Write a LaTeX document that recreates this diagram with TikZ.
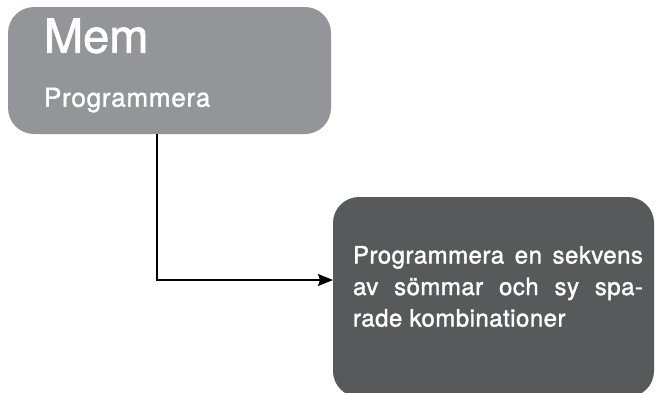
\documentclass[tikz,border=0pt]{standalone}
\usepackage{fontspec}
\setmainfont{TeX Gyre Heros}
\newfontfamily\panelfont{TeX Gyre Heros}[RawFeature={embolden=1.5}]
\usetikzlibrary{arrows.meta,positioning}
\definecolor{memgray}{HTML}{939598}
\definecolor{seqgray}{HTML}{58595B}
\tikzset{
  panel/.style={draw=none, rounded corners=26pt, inner sep=0pt, outer sep=0pt},
  paneltext/.style={text=white, inner sep=0pt, outer sep=0pt},
  link/.style={line width=1.3pt, -{Stealth[length=15pt,width=12pt,inset=2pt]}}
}
\begin{document}
\begin{tikzpicture}[x=1pt,y=-1pt]
    \useasboundingbox (0,0) rectangle (656,392);

    % the two panels
    \begin{scope}
        \clip (0,0) rectangle (656,392);
        \node[panel, fill=memgray, minimum width=323pt, minimum height=127pt] (mem) at (169.5,70.5) {};
        \node[panel, fill=seqgray, minimum width=321pt, minimum height=200pt] (seq) at (493.5,297) {};
    \end{scope}

    \node[paneltext, anchor=base west, font=\panelfont\fontsize{47}{50}\selectfont] (memtitle) at (44,52.7) {Mem};
    \node[paneltext, anchor=base west, font=\panelfont\fontsize{26}{30}\selectfont\addfontfeature{LetterSpace=3}] (memprog) at (44,106.7) {Programmera};
    \node[paneltext, anchor=north west, text width=290pt, align=justify,
          font=\panelfont\fontsize{24}{31.5}\selectfont\addfontfeature{LetterSpace=2}] (seqtext) at (353,246)
          {Programmera en sekvens\linebreak av sömmar och sy spa-\linebreak rade kombinationer};

    % connector
    \coordinate (seqin) at ([yshift=17pt]seq.west);
    \draw[link] ([xshift=-12.5pt]mem.south) |- (seqin);
\end{tikzpicture}
\end{document}
